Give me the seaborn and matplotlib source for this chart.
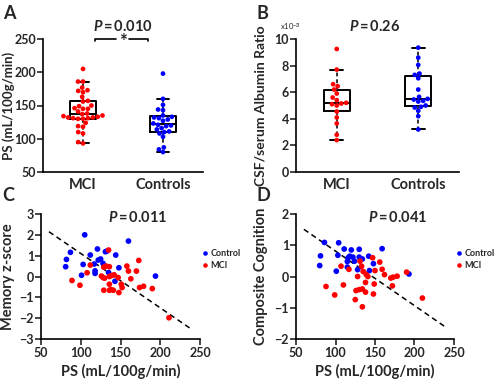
import numpy as np
import pandas as pd
import matplotlib
matplotlib.use("Agg")
import matplotlib.pyplot as plt
import seaborn as sns

# ==============================
# 1. Data
# ==============================
groups = ["MCI", "Controls"]
group_colors = {"MCI": "red", "Controls": "blue"}

# Panel A: PS (mL/100g/min)
ps_mci = [93, 95, 108, 110, 118, 119, 124, 130, 130, 131, 131, 132, 132, 133, 134, 135, 137,
          138, 141, 145, 145, 146, 149, 150, 156, 157, 163, 170, 172, 173, 177, 186, 186, 205]
ps_controls = [80, 84, 87, 103, 108, 110, 111, 114, 116, 119, 120, 121, 123, 127, 129, 131,
               132, 133, 135, 143, 144, 151, 160, 198]
p_ps = "0.010"

# Panel B: CSF/serum albumin ratio (x10^-3)
alb_mci = [2.4, 2.8, 3.65, 4.1, 4.55, 5.0, 5.1, 5.15, 5.2, 5.4, 5.6, 5.9, 6.2, 6.45, 6.6, 7.7, 9.25]
alb_controls = [3.2, 4.2, 4.6, 4.85, 4.9, 5.0, 5.3, 5.35, 5.45, 5.5, 5.65, 6.2, 7.05, 7.3, 7.4,
                8.05, 8.6, 9.35]
p_alb = "0.26"

# Panel C: memory z-score vs PS
mem_ctrl_x = [105, 160, 87, 121, 131, 133, 112, 144, 82, 122, 125, 81, 103, 117, 128, 101, 118,
              118, 135, 148, 143, 194]
mem_ctrl_y = [2.0, 1.7, 1.16, 1.32, 1.19, 1.22, 1.03, 1.03, 0.82, 0.79, 0.84, 0.47, 0.58, 0.60,
              0.63, 0.06, 0.27, 0.15, 0.19, 0.42, -0.23, 0.02]
mem_mci_x = [135, 112, 129, 132, 136, 158, 173, 108, 160, 170, 126, 130, 136, 139, 142, 147,
             163, 89, 99, 136, 151, 152, 179, 174, 190, 129, 136, 138, 141, 148, 211, 128]
mem_mci_y = [1.27, 0.55, 0.45, 0.5, 0.47, 0.5, 0.77, 0.18, 0.26, 0.26, 0.02, -0.08, 0.0, 0.05,
             0.08, -0.05, -0.11, -0.19, -0.42, -0.37, -0.37, -0.53, -0.47, -0.53, -0.58, -0.66,
             -0.66, -0.63, -0.66, -0.77, -1.98, -0.05]
mem_trend_x = [60, 240]
mem_trend_y = [2.15, -2.55]
p_mem = "0.011"

# Panel D: composite cognition vs PS
cog_ctrl_x = [86, 104, 111, 120, 130, 159, 81, 103, 116, 118, 122, 130, 134, 142, 115, 124, 80,
              101, 115, 128, 143, 148, 193]
cog_ctrl_y = [1.09, 1.08, 0.88, 0.85, 0.87, 0.89, 0.66, 0.68, 0.6, 0.65, 0.62, 0.62, 0.56, 0.65,
              0.48, 0.49, 0.35, 0.17, 0.3, 0.22, 0.19, 0.41, 0.08]
cog_mci_x = [147, 131, 156, 107, 117, 133, 159, 135, 139, 141, 150, 162, 128, 170, 173, 178, 190,
             88, 110, 138, 134, 126, 130, 149, 172, 138, 99, 148, 125, 134, 210]
cog_mci_y = [0.6, 0.49, 0.46, 0.33, 0.23, 0.33, 0.23, 0.16, 0.06, 0.0, 0.19, 0.06, 0.0, -0.05,
             -0.02, 0.01, 0.14, -0.32, -0.27, -0.19, -0.4, -0.45, -0.42, -0.24, -0.3, -0.5,
             -0.59, -0.56, -0.74, -0.97, -0.69]
cog_trend_x = [60, 240]
cog_trend_y = [1.51, -1.63]
p_cog = "0.041"

# ==============================
# 2. Style
# ==============================
sns.set_style("white")
plt.rcParams["font.family"] = ["Lato", "DejaVu Sans"]
plt.rcParams["font.weight"] = "bold"
plt.rcParams["axes.labelweight"] = "bold"
plt.rcParams["mathtext.fontset"] = "custom"
plt.rcParams["mathtext.it"] = "Lato:italic:bold"
plt.rcParams["mathtext.rm"] = "Lato:bold"

fig = plt.figure(figsize=(5.0, 3.84), dpi=100)
W, H = 500, 384
THIN = "\u2009"


def add_ax(left, top, right, bottom):
    return fig.add_axes([left / W, 1 - bottom / H, (right - left) / W, (bottom - top) / H])


def p_label(x, y, p):
    fig.text(x / W, 1 - y / H, f"$P${THIN}={THIN}{p}", ha="center", va="center",
             fontsize=10.5)


def style_ax(ax):
    sns.despine(ax=ax)
    for s in ("left", "bottom"):
        ax.spines[s].set_linewidth(1.2)
        ax.spines[s].set_color("black")
    ax.tick_params(axis="y", direction="out", length=4, width=1.2, labelsize=9, pad=1, left=True)


box_kw = dict(
    order=groups, width=0.32, whis=1.5, showfliers=False, fill=False, color="black",
    linewidth=1.4,
    whiskerprops=dict(linestyle=(0, (2, 1.5)), color="#333333", linewidth=1.4),
    capprops=dict(color="black", linewidth=1.4),
    medianprops=dict(color="black", linewidth=1.4),
)


def box_panel(ax, a, b, ylabel, label_size):
    df = pd.DataFrame({"group": ["MCI"] * len(a) + ["Controls"] * len(b), "value": a + b})
    sns.boxplot(data=df, x="group", y="value", ax=ax, **box_kw)
    sns.swarmplot(data=df, x="group", y="value", hue="group", order=groups,
                  palette=group_colors, size=3.4, linewidth=0, legend=False, ax=ax, zorder=3)
    ax.set_xlim(-0.5, 1.5)
    ax.set_xlabel("")
    ax.set_ylabel(ylabel, fontsize=label_size)
    style_ax(ax)
    ax.tick_params(axis="x", labelsize=10.5, length=0, pad=4)


def scatter_panel(ax, cx, cy, mx, my, tx, ty, ylabel):
    df = pd.DataFrame({"PS": cx + mx, "score": cy + my,
                       "group": ["Control"] * len(cx) + ["MCI"] * len(mx)})
    ax.plot(tx, ty, color="black", linestyle=(0, (3.5, 2.5)), linewidth=1.1, zorder=1)
    sns.scatterplot(data=df, x="PS", y="score", hue="group", hue_order=["Control", "MCI"],
                    palette={"Control": "blue", "MCI": "red"}, s=17, linewidth=0,
                    ax=ax, zorder=2)
    ax.set_xlim(50, 250)
    ax.set_xticks(np.arange(50, 251, 50))
    ax.set_xlabel("PS (mL/100g/min)", fontsize=10.5, labelpad=3)
    ax.set_ylabel(ylabel, fontsize=10.5)
    style_ax(ax)
    ax.tick_params(axis="x", direction="out", length=4, width=1.2, bottom=True,
                   labelsize=9, pad=2)
    leg = ax.legend(loc="center left", bbox_to_anchor=(0.98, 0.635), frameon=False,
                    fontsize=6.5, handletextpad=0.1, handlelength=1.0, labelspacing=0.4,
                    borderaxespad=0, markerscale=0.8)
    for t in leg.get_texts():
        t.set_fontweight("bold")


# ==============================
# 3. Panels
# ==============================
axA = add_ax(43, 39, 203, 172)
box_panel(axA, ps_mci, ps_controls, "PS (mL/100g/min)", 9.5)
axA.set_ylim(50, 250)
axA.set_yticks(np.arange(50, 251, 50))
axA.yaxis.set_label_coords(-0.175, 0.5)
# significance bracket
axA.plot([0.15, 0.15, 0.41], [247, 250, 250], color="black", linewidth=1.2, clip_on=False)
axA.plot([0.58, 0.81, 0.81], [250, 250, 247], color="black", linewidth=1.2, clip_on=False)
axA.text(0.495, 246, "*", ha="center", va="center", fontsize=13.5, clip_on=False)
p_label(122.5, 26.5, p_ps)

axB = add_ax(296, 39, 459, 172)
box_panel(axB, alb_mci, alb_controls, "CSF/serum Albumin Ratio", 10)
axB.set_ylim(0, 10)
axB.set_yticks(np.arange(0, 11, 2))
axB.yaxis.set_label_coords(-0.178, 0.5)
fig.text(290 / W, 1 - 26 / H, "x10$^{-3}$", ha="center", va="center", fontsize=5.5,
         fontweight="normal")
p_label(374.5, 26.5, p_alb)

axC = add_ax(41, 214, 200, 339)
scatter_panel(axC, mem_ctrl_x, mem_ctrl_y, mem_mci_x, mem_mci_y, mem_trend_x, mem_trend_y,
              "Memory z-score")
axC.set_ylim(-3, 3)
axC.set_yticks(np.arange(-3, 4, 1))
axC.yaxis.set_label_coords(-0.165, 0.5)
p_label(138, 217, p_mem)

axD = add_ax(296, 214, 454, 339)
scatter_panel(axD, cog_ctrl_x, cog_ctrl_y, cog_mci_x, cog_mci_y, cog_trend_x, cog_trend_y,
              "Composite Cognition")
axD.set_ylim(-2, 2)
axD.set_yticks(np.arange(-2, 3, 1))
axD.yaxis.set_label_coords(-0.18, 0.5)
p_label(398, 217, p_cog)

# panel letters
for letter, x, y in [("A", 3, 5), ("B", 256, 5), ("C", 2, 187), ("D", 256, 187)]:
    fig.text(x / W, 1 - y / H, letter, ha="left", va="top", fontsize=13, fontweight="bold")

fig.savefig("out.png", dpi=100)
